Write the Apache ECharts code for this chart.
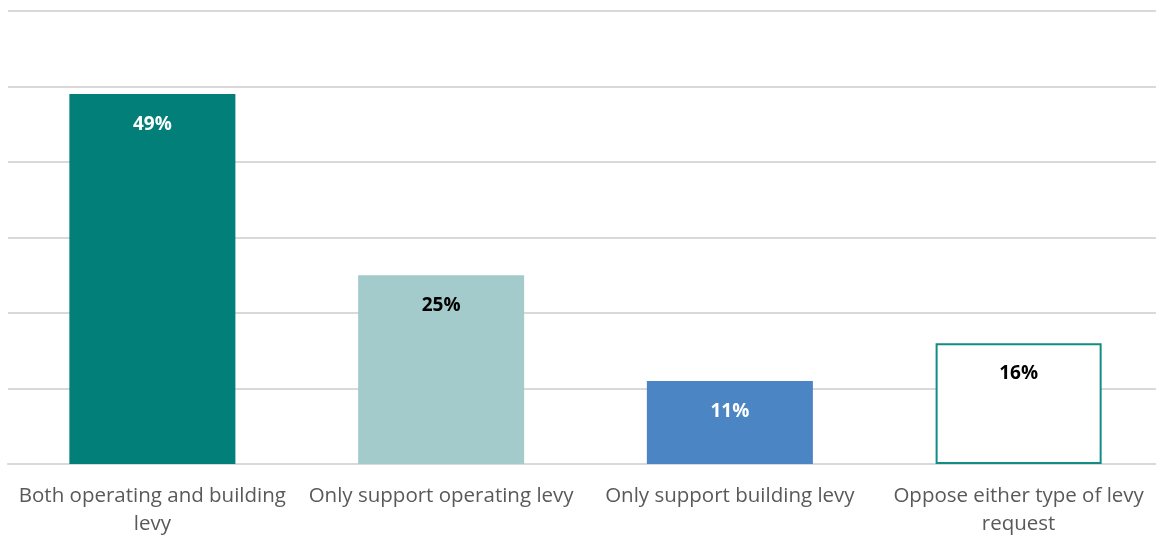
<!DOCTYPE html>
<html>
<head>
<meta charset="utf-8">
<script src="https://cdn.jsdelivr.net/npm/echarts@6/dist/echarts.min.js"></script>
<style>
  html, body { margin: 0; padding: 0; background: #fff; overflow: hidden; }
  #chart { width: 1163px; height: 538px; }
</style>
</head>
<body>
<div id="chart"></div>
<script>
// Levy support survey results (percent of respondents)
const categories = [
  'Both operating and building\nlevy',
  'Only support operating levy',
  'Only support building levy',
  'Oppose either type of levy\nrequest'
];
const values = [49, 25, 11, 16];
const barColors = ['#017F78', '#A3CBCB', '#4C85C4', '#FFFFFF'];
const labelColors = ['#FFFFFF', '#000000', '#FFFFFF', '#000000'];

const chart = echarts.init(document.getElementById('chart'));

chart.setOption({
  animation: false,
  grid: { left: 8, right: 0, top: 11, bottom: 74, containLabel: false },
  xAxis: {
    type: 'category',
    data: categories,
    axisTick: { show: false },
    axisLine: { show: true, lineStyle: { color: '#D9D9D9', width: 2 } },
    axisLabel: {
      color: '#595959',
      fontFamily: 'Open Sans',
      fontSize: 20.5,
      lineHeight: 28,
      margin: 18,
      interval: 0
    }
  },
  yAxis: {
    type: 'value',
    min: 0,
    max: 60,
    interval: 10,
    axisLabel: { show: false },
    axisLine: { show: false },
    axisTick: { show: false },
    splitLine: { lineStyle: { color: '#D9D9D9', width: 2 } }
  },
  series: [{
    type: 'bar',
    barWidth: '57.5%',
    data: values.map((v, i) => ({
      value: v,
      itemStyle: {
        color: barColors[i],
        borderColor: i === 3 ? '#138C86' : barColors[i],
        borderWidth: i === 3 ? 2 : 0
      },
      label: { color: labelColors[i] }
    })),
    label: {
      show: true,
      position: 'insideTop',
      distance: 21,
      formatter: p => p.value + '%',
      fontFamily: 'Open Sans',
      fontWeight: 'bold',
      fontSize: 19
    }
  }]
});
</script>
</body>
</html>
